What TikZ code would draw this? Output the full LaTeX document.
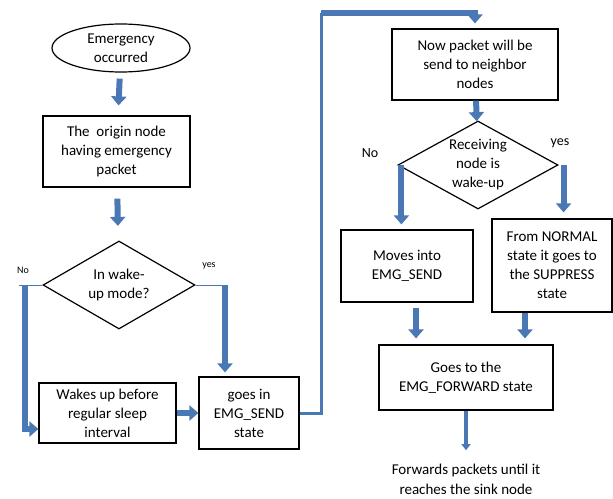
\documentclass[tikz,border=0pt]{standalone}
\usepackage{fontspec}
\setmainfont{Carlito}
\usetikzlibrary{shapes.geometric, arrows.meta, positioning}
\definecolor{flowblue}{HTML}{4A78B5}

\tikzset{
  startstop/.style={draw, ellipse, line width=1.2pt, align=center, inner sep=0pt, font=\fontsize{15}{19}\selectfont},
  process/.style={draw, rectangle, line width=1.2pt, align=center, inner sep=1pt, font=\fontsize{15}{19}\selectfont},
  decision/.style={draw, diamond, aspect=1.8, line width=1.2pt, align=center, inner sep=0pt, font=\fontsize{15}{19}\selectfont},
  plain/.style={align=center, font=\fontsize{15}{20}\selectfont},
  flow/.style={draw=flowblue, line width=6pt, -{Triangle[width=15pt, length=9pt]}},
  thinflow/.style={draw=flowblue, line width=3.5pt, -{Triangle[width=9pt, length=6pt]}},
  branch/.style={draw=flowblue, line width=1pt},
}

\begin{document}
\begin{tikzpicture}[x=1pt, y=-1pt]
\useasboundingbox (0,0) rectangle (613,498);

% Left column
\node[startstop, minimum width=138pt, minimum height=48pt] (emg) at (121,48) {Emergency\\occurred};
\node[process, minimum width=147pt, minimum height=71pt] (origin) at (116.5,151.5) {The\ \ origin node\\having emergency\\packet};
\node[decision, minimum width=152pt, minimum height=88pt] (awake) at (119,285) {In wake-\\up mode?};
\node[process, minimum width=137pt, minimum height=60pt] (wakes) at (107.5,413) {Wakes up before\\regular sleep\\interval};
\node[process, minimum width=100pt, minimum height=72pt] (send) at (249,413) {goes in\\EMG\_SEND\\state};

\node[font=\fontsize{10}{12}\selectfont] (nol) at (23,270) {No};
\node[font=\fontsize{10}{12}\selectfont] (yesl) at (209,266) {yes};
\coordinate (nobend) at (25,285);
\coordinate (yesbend) at (225,285);

% Right column
\node[process, minimum width=166pt, minimum height=71pt] (neigh) at (475,64.5) {Now packet will be\\send to neighbor\\nodes};
\node[decision, minimum width=160pt, minimum height=88pt] (recv) at (478,165) {Receiving\\node is\\wake-up};
\node[process, minimum width=132pt, minimum height=72pt] (moves) at (407,266) {Moves into\\EMG\_SEND};
\node[process, minimum width=120pt, minimum height=93pt] (normal) at (552,265.5) {From NORMAL\\state it goes to\\the SUPPRESS\\state};
\node[process, minimum width=174pt, minimum height=65pt] (fwd) at (466,377.5) {Goes to the\\EMG\_FORWARD state};
\node[plain] (sink) at (466,479) {Forwards packets until it\\reaches the sink node};

\node[font=\fontsize{14}{16}\selectfont] (nor) at (370,153) {No};
\node[font=\fontsize{14}{16}\selectfont] (yesr) at (560,143) {yes};
\coordinate (turn) at (321,13);

% Arrows
\draw[flow, shorten <=6pt, shorten >=10pt] (emg) -- (origin);
\draw[flow, shorten <=11pt, shorten >=15pt] (origin) -- (awake);
\draw[branch] ([xshift=-23pt]awake.west) -- (awake.west);
\draw[flow] (nobend) |- ([yshift=-16pt]wakes.west);
\draw[branch] (awake.east) -- (yesbend);
\draw[flow, shorten >=4pt] (yesbend) -- (yesbend |- send.north);
\draw[flow] (wakes) -- (send);
\draw[draw=flowblue, line width=3pt] (send.east) -| (turn);
\draw[flow, shorten >=5pt] (turn) -| (neigh.north);
\draw[flow] (neigh) -- (recv);
\draw[flow, shorten >=5pt] ([xshift=4pt]recv.west) -- ([xshift=4pt]recv.west |- moves.north);
\draw[flow, shorten >=6pt] ([xshift=5pt]recv.east) -- ([xshift=5pt]recv.east |- normal.north);
\draw[flow, shorten <=5pt, shorten >=6pt] ([xshift=9pt]moves.south) -- ([xshift=9pt]moves.south |- fwd.north);
\draw[flow, shorten >=6pt] ([xshift=-27pt]normal.south) -- ([xshift=-27pt]normal.south |- fwd.north);
\draw[thinflow, shorten >=10pt] (fwd) -- (sink);
\end{tikzpicture}
\end{document}
